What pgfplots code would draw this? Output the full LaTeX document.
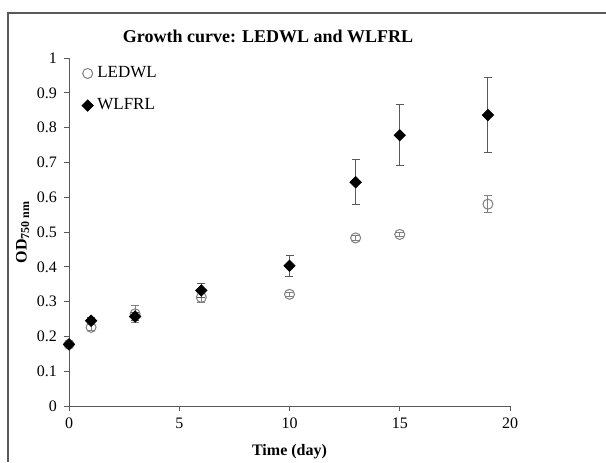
\documentclass[border=0pt]{standalone}
\usepackage{fontspec}
\setmainfont{Liberation Serif}
\usepackage{pgfplots}
\usepackage{pgfplotstable}
\pgfplotsset{compat=1.18}
\definecolor{axisgray}{HTML}{595959}
\definecolor{circgray}{HTML}{808080}

\pgfplotstableread{
x    y      e
0    0.177  0.005
1    0.226  0.008
3    0.265  0.025
6    0.312  0.015
10   0.321  0.006
13   0.483  0.007
15   0.493  0.007
19   0.580  0.025
}\ledwl

\pgfplotstableread{
x    y      e
0    0.177  0.005
1    0.245  0.008
3    0.257  0.012
6    0.332  0.020
10   0.403  0.030
13   0.643  0.065
15   0.778  0.088
19   0.836  0.108
}\wlfrl

\begin{document}
\begin{tikzpicture}[x=0.5pt,y=0.5pt]
\useasboundingbox (0,0) rectangle (606,462);
\draw[axisgray, line width=0.6pt] (8,0) -- (8,449) -- (606,449);
\node[font=\bfseries\fontsize{9}{11}\selectfont] at (268,426) {Growth curve: LEDWL and WLFRL};
\begin{axis}[
  at={(34.5pt,28pt)}, anchor=origin,
  scale only axis,
  width=220.5pt, height=174pt,
  xmin=0, xmax=20, ymin=0, ymax=1,
  axis lines*=left,
  axis line style={axisgray, line width=0.5pt},
  tick align=outside,
  major tick length=2.5pt,
  tick style={axisgray, line width=0.5pt},
  xtick={0,5,10,15,20},
  ytick={0,0.1,0.2,0.3,0.4,0.5,0.6,0.7,0.8,0.9,1},
  yticklabel style={/pgf/number format/fixed, /pgf/number format/precision=1},
  /pgf/number format/assume math mode=true,
  tick label style={font=\fontsize{8}{9}\selectfont, black},
  xlabel={\textbf{Time (day)}},
  ylabel={\textbf{OD\textsubscript{750 nm}}},
  label style={font=\fontsize{8}{10}\selectfont},
  xlabel style={yshift=-1pt},
  ylabel style={yshift=-3pt},
  legend style={draw=none, fill=none, at={(0.015,1.0)}, anchor=north west,
    font=\fontsize{8.5}{10}\selectfont, row sep=5pt},
  legend cell align=left,
  clip=false,
]
\addplot[only marks, mark=o, mark size=2.5pt, mark options={circgray, line width=0.5pt},
  error bars/.cd, y dir=both, y explicit,
  error bar style={circgray, line width=0.5pt},
  error mark options={rotate=90, mark size=2pt, circgray, line width=0.5pt}]
  table[x=x, y=y, y error=e] {\ledwl};
\addlegendentry{LEDWL}
\addplot[only marks, mark=square*, mark size=2pt, mark options={black, rotate=45},
  error bars/.cd, y dir=both, y explicit,
  error bar style={axisgray, line width=0.5pt},
  error mark options={rotate=90, mark size=2pt, axisgray, line width=0.5pt}]
  table[x=x, y=y, y error=e] {\wlfrl};
\addlegendentry{WLFRL}
\end{axis}
\end{tikzpicture}
\end{document}
